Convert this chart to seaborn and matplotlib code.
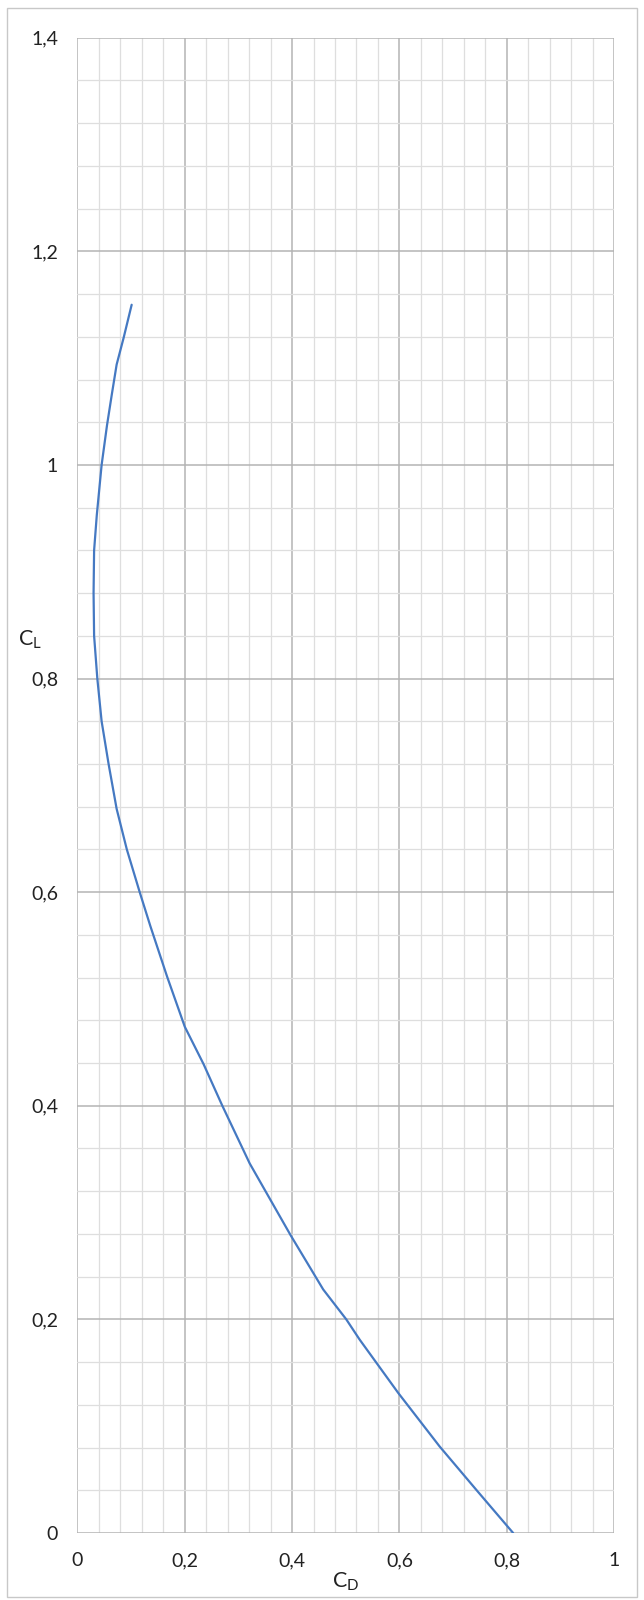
import matplotlib
matplotlib.use("Agg")
import matplotlib.pyplot as plt
import seaborn as sns
import pandas as pd
from matplotlib.patches import Rectangle

# drag polar (top of the curve first)
cl = [1.150, 1.119, 1.094, 1.066, 1.037, 1.000, 0.953, 0.920, 0.880, 0.840,
      0.800, 0.760, 0.720, 0.678, 0.640, 0.600, 0.568, 0.521, 0.474, 0.439,
      0.400, 0.346, 0.279, 0.228, 0.200, 0.181, 0.131, 0.081, 0.040, 0.000]
cd = [0.101, 0.086, 0.073, 0.064, 0.055, 0.045, 0.036, 0.031, 0.030, 0.031,
      0.037, 0.045, 0.058, 0.073, 0.092, 0.116, 0.136, 0.167, 0.200, 0.235,
      0.270, 0.321, 0.397, 0.458, 0.501, 0.526, 0.598, 0.675, 0.744, 0.812]

xticks = [0, 0.2, 0.4, 0.6, 0.8, 1.0]
xtick_labels = ["0", "0,2", "0,4", "0,6", "0,8", "1"]
yticks = [0, 0.2, 0.4, 0.6, 0.8, 1.0, 1.2, 1.4]
ytick_labels = ["0", "0,2", "0,4", "0,6", "0,8", "1", "1,2", "1,4"]

df = pd.DataFrame({"CD": cd, "CL": cl})

sns.set_theme(style="white")
plt.rcParams["font.family"] = ["Lato", "DejaVu Sans"]
plt.rcParams["mathtext.default"] = "regular"

fig = plt.figure(figsize=(6.44, 16), dpi=100)
ax = fig.add_axes([0.1203, 0.0419, 0.8331, 0.9345])

# Excel-style grid: light minor lines, darker major lines
ax.set_xticks([i * 0.04 for i in range(26)], minor=True)
ax.set_yticks([i * 0.04 for i in range(36)], minor=True)
ax.grid(which="minor", color="#dedede", linewidth=0.9)
ax.grid(which="major", color="#b4b4b4", linewidth=1.1)
ax.set_axisbelow(True)

sns.lineplot(data=df, x="CD", y="CL", sort=False, estimator=None,
             color="#4579c2", linewidth=1.6, ax=ax)

ax.set_xlim(0, 1)
ax.set_ylim(0, 1.4)
ax.set_xticks(xticks, labels=xtick_labels)
ax.set_yticks(yticks, labels=ytick_labels)
ax.tick_params(which="major", length=5, width=1, color="#b4b4b4",
               labelsize=14, labelcolor="#222222", pad=9)
ax.tick_params(which="minor", length=0)
for s in ax.spines.values():
    s.set_visible(False)

ax.set_xlabel("C$_D$", fontsize=15.5, color="#222222", labelpad=1)
ax.set_ylabel("C$_L$", fontsize=15.5, color="#222222", rotation=0)
ax.yaxis.set_label_coords(-0.088, 0.59)

# chart area border
fig.patches.append(Rectangle((0.011, 0.002), 0.978, 0.993, transform=fig.transFigure,
                             fill=False, edgecolor="#c8c8c8", linewidth=1))

fig.savefig("out.png", dpi=100)
